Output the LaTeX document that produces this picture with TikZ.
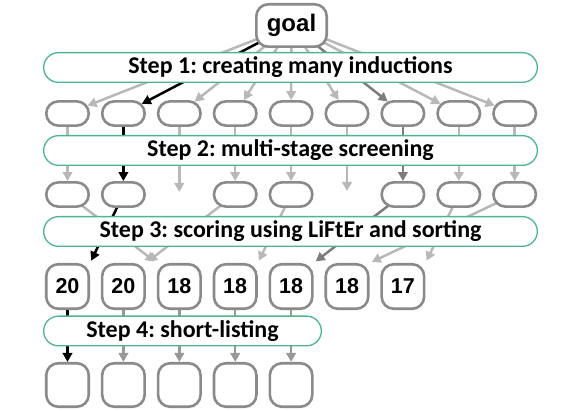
\documentclass[tikz,border=0pt]{standalone}
\usepackage{fontspec}
\setmainfont{Carlito}
\newfontfamily\arialf{Liberation Sans}
\frenchspacing
\usetikzlibrary{shapes.misc,arrows.meta,backgrounds,calc}
\definecolor{stepgreen}{RGB}{78,182,140}
\definecolor{boxgray}{RGB}{138,138,138}
\definecolor{lgray}{RGB}{184,184,184}
\definecolor{dgray}{RGB}{125,125,125}
\definecolor{mgray}{RGB}{152,152,152}
\begin{document}
\begin{tikzpicture}[x=1pt,y=-1pt,
  stepbox/.style={rounded rectangle, draw=stepgreen, line width=1.3pt, fill=white,
    minimum height=29.7pt, inner sep=0pt, font=\fontsize{24}{24}\selectfont\bfseries},
  oval/.style={rounded rectangle, draw=boxgray, line width=2.6pt, fill=white,
    minimum width=42.5pt, minimum height=24.3pt, inner sep=0pt},
  scorebox/.style={rectangle, rounded corners=12pt, draw=boxgray, line width=2.6pt, fill=white,
    minimum width=42.5pt, minimum height=44.5pt, inner sep=0pt,
    font=\arialf\fontsize{21.5}{21.5}\selectfont\bfseries},
  finalbox/.style={scorebox, minimum height=43.5pt},
  goalbox/.style={rectangle, rounded corners=12pt, draw=boxgray, line width=2.6pt, fill=white,
    minimum width=70.4pt, minimum height=42.4pt, inner sep=0pt,
    font=\arialf\fontsize{24}{24}\selectfont\bfseries},
  conn/.style={line width=2.5pt, -{Triangle[length=9pt,width=9.5pt]}},
  lg/.style={conn, draw=lgray},
  dg/.style={conn, draw=dgray},
  mg/.style={conn, draw=mgray},
  bk/.style={conn, draw=black},
  corner/.style={shorten >=2.5pt}
]
\useasboundingbox (0,0) rectangle (581,411);

% goal
\node[goalbox] (goal) at (291.5,25.5) {goal};

% step boxes
\node[stepbox, minimum width=493.7pt] (s1) at (290.5,67.5) {Step 1: creating many inductions};
\node[stepbox, minimum width=493.7pt] (s2) at (290.5,150.5) {Step 2: multi-stage screening};
\node[stepbox, minimum width=493.7pt] (s3) at (290.5,231.5) {Step 3: scoring using LiFtEr and sorting};
\node[stepbox, minimum width=277.7pt] (s4) at (182.5,331) {Step 4: short-listing};

% row 1
\foreach \i/\n in {0/a,1/b,2/c,3/d,4/e,5/f,6/g,7/h,8/i}
  \node[oval] (r1\n) at ({67.5+55.9*\i},113.5) {};

% row 2
\foreach \i/\n in {0/a,1/b,3/d,4/e,6/g,7/h,8/i}
  \node[oval] (r2\n) at ({67.5+55.9*\i},194.5) {};
\coordinate (m3) at ({67.5+55.9*2},192);
\coordinate (m6) at ({67.5+55.9*5},191);

% row 3
\foreach \i/\n/\t in {0/a/20,1/b/20,2/c/18,3/d/18,4/e/18,5/f/18,6/g/17}
  \node[scorebox] (r3\n) at ({67.5+55.9*\i},286.5) {\t};

% row 4
\foreach \i/\n in {0/a,1/b,2/c,3/d,4/e}
  \node[finalbox] (r4\n) at ({67.5+55.9*\i},385) {};

\begin{scope}[on background layer]
  % goal -> row 1
  \foreach \n in {a,c,d,e,f,h,i}
    \draw[lg] (goal.center) -- (r1\n);
  \draw[dg] (goal.center) -- (r1g);
  \draw[bk] (goal.center) -- (r1b);
  % row 1 -> row 2
  \foreach \n in {a,d,e,h,i}
    \draw[lg] (r1\n.center) -- (r2\n);
  \draw[lg] (r1c.center) -- (m3);
  \draw[lg] (r1f.center) -- (m6);
  \draw[dg] (r1g.center) -- (r2g);
  \draw[bk] (r1b.center) -- (r2b);
  % row 2 -> row 3
  \draw[lg, corner] (r2a.center) -- (r3c.north west);
  \draw[lg, corner] (r2d.center) -- (r3b.north east);
  \draw[lg, corner] (r2e.center) -- (r3d.north east);
  \draw[lg, corner] (r2h.center) -- (r3g.north east);
  \draw[lg, corner] (r2i.center) -- (r3f.north east);
  \draw[dg, corner] (r2g.center) -- (r3e.north east);
  \draw[bk, corner] (r2b.center) -- (r3a.north east);
  % row 3 -> row 4
  \foreach \n in {b,c,d,e}
    \draw[mg] (r3\n.center) -- (r4\n);
  \draw[bk] (r3a.center) -- (r4a);
\end{scope}
\end{tikzpicture}
\end{document}
